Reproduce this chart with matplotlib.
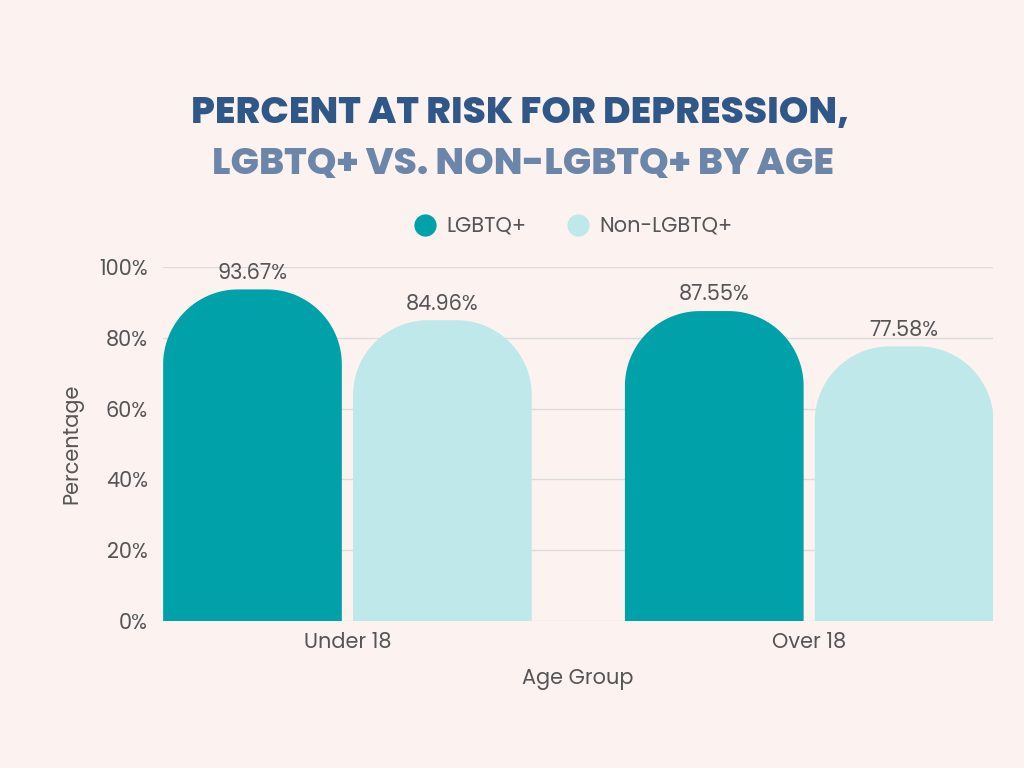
import matplotlib
matplotlib.use("Agg")
import matplotlib.pyplot as plt
import numpy as np
from matplotlib.patches import Polygon
from matplotlib.lines import Line2D

# data
AGE_GROUPS = ["Under 18", "Over 18"]
SERIES = ["LGBTQ+", "Non-LGBTQ+"]
LGBTQ_PCT = [93.67, 87.55]
NON_LGBTQ_PCT = [84.96, 77.58]
Y_TICKS = [0, 20, 40, 60, 80, 100]

BG = "#FCF3F1"
COLORS = ["#00A1A8", "#BFE8EA"]
TXT = "#555555"

plt.rcParams["font.family"] = ["Poppins", "Lato", "DejaVu Sans"]

fig = plt.figure(figsize=(10.24, 7.68), dpi=100, facecolor=BG)
ax = fig.add_axes([163 / 1024, 1 - 621 / 768, 830 / 1024, 354 / 768])
ax.set_facecolor(BG)

width = 0.387
offset = 0.2056
ax.set_xlim(-0.3994, 1.398)
ax.set_ylim(0, 100)

# corner radius in pixels -> data units
R_PX = 75
rx = R_PX * (ax.get_xlim()[1] - ax.get_xlim()[0]) / 830
ry = R_PX * 100 / 354


def rounded_bar(xc, h, color):
    x0, x1 = xc - width / 2, xc + width / 2
    r_y = min(ry, h)
    pts = [(x0, 0)]
    for a in np.linspace(np.pi, np.pi / 2, 40):
        pts.append((x0 + rx + rx * np.cos(a), h - r_y + r_y * np.sin(a)))
    for a in np.linspace(np.pi / 2, 0, 40):
        pts.append((x1 - rx + rx * np.cos(a), h - r_y + r_y * np.sin(a)))
    pts.append((x1, 0))
    ax.add_patch(Polygon(pts, closed=True, facecolor=color, edgecolor="none", zorder=3))


x = np.arange(len(AGE_GROUPS))
for i, vals in enumerate([LGBTQ_PCT, NON_LGBTQ_PCT]):
    for xi, v in zip(x, vals):
        xc = xi + (offset if i else -offset)
        rounded_bar(xc, v, COLORS[i])
        ax.text(xc, v + 1.3, f"{v:.2f}%", ha="center", va="bottom",
                fontsize=15, color=TXT, zorder=4)

ax.set_yticks(Y_TICKS)
ax.set_yticklabels([f"{t}%" for t in Y_TICKS], fontsize=15, color=TXT)
ax.set_xticks(x)
ax.set_xticklabels(AGE_GROUPS, fontsize=15, color=TXT)
ax.tick_params(axis="x", length=0, pad=8)
ax.tick_params(axis="y", length=0, pad=11)
ax.grid(axis="y", color="#DDDADA", lw=1, zorder=0)
ax.set_axisbelow(True)
for s in ax.spines.values():
    s.set_visible(False)
ax.set_ylabel("Percentage", fontsize=15, color=TXT, labelpad=11)
ax.set_xlabel("Age Group", fontsize=15, color=TXT, labelpad=10)

# legend
handles = [Line2D([], [], marker="o", ls="none", markersize=16,
                  markerfacecolor=c, markeredgecolor="none") for c in COLORS]
fig.legend(handles, SERIES, loc="center", bbox_to_anchor=(0.555, 1 - 227 / 768),
           ncol=2, frameon=False, fontsize=15, handletextpad=0.0,
           columnspacing=1.5, labelcolor=TXT)

# title
fig.text(0.508, 1 - 114 / 768, "PERCENT AT RISK FOR DEPRESSION,", ha="center",
         va="center", fontsize=27, fontweight="heavy", color="#2F5888")
fig.text(0.511, 1 - 165 / 768, "LGBTQ+ VS. NON-LGBTQ+ BY AGE", ha="center",
         va="center", fontsize=27, fontweight="heavy", color="#6C86A9")

fig.savefig("out.png", dpi=100, facecolor=BG)
